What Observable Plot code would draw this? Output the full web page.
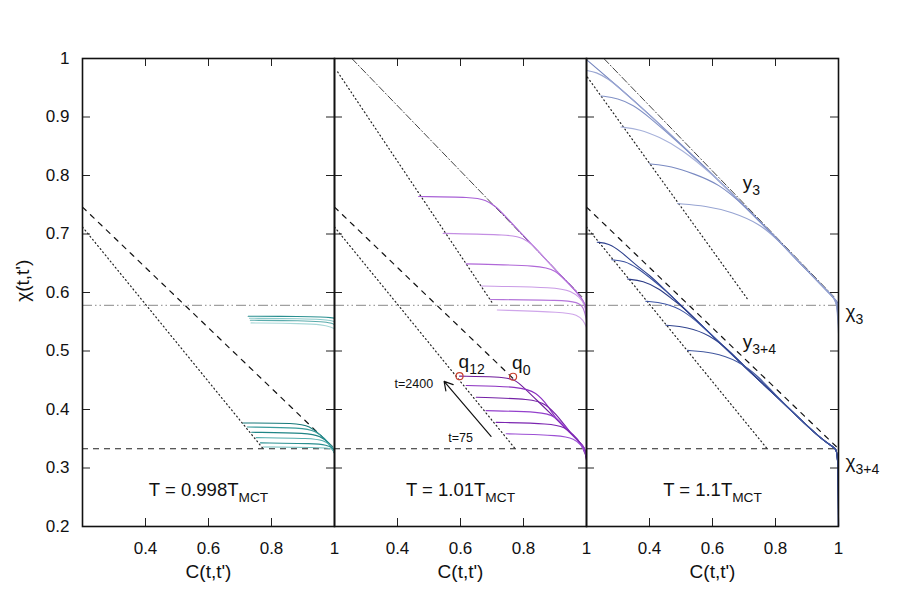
<!DOCTYPE html>
<html><head><meta charset="utf-8">
<script src="https://cdn.jsdelivr.net/npm/d3@7"></script>
<script src="https://cdn.jsdelivr.net/npm/@observablehq/plot@0.6"></script>
<style>
body{margin:0;background:#fff;}
#chart{width:900px;height:600px;}
</style></head><body><div id="chart"></div>
<script>
// ---------- data ----------
const panels = ["p1", "p2", "p3"];
const panelLabels = ["T = 0.998T_{MCT}", "T = 1.01T_{MCT}", "T = 1.1T_{MCT}"];
const xTicks = [0.4, 0.6, 0.8, 1];
const yTicks = [0.2, 0.3, 0.4, 0.5, 0.6, 0.7, 0.8, 0.9, 1];
const chi3 = 0.578;
const chi34 = 0.333;

// straight guide lines [C, chi]
const dashedLine = [[0.2, 0.746], [1, 0.333]];             // panels 1 and 3
const dashedLineP2 = [[0.2, 0.746], [0.767, 0.453]];        // panel 2, ends at q0
const dottedLow = [[0.2, 0.712], [0.772, 0.334]];           // all panels
const dottedHighP2 = [[0.21, 0.977], [0.70, 0.583]];
const dottedHighP3 = [[0.203, 0.968], [0.711, 0.589]];
const dashDotLine = [[0.255, 1.0], [0.985, 0.593]];         // panels 2 and 3

// panel 1 (T = 0.998 T_MCT), teal
const tealUpper = [
  [[0.726, 0.5595], [0.90, 0.559], [0.96, 0.558], [0.99, 0.557], [1, 0.556]],
  [[0.730, 0.556], [0.90, 0.555], [0.96, 0.554], [0.99, 0.552], [1, 0.550]],
  [[0.733, 0.5525], [0.90, 0.552], [0.96, 0.550], [0.99, 0.548], [1, 0.545]],
  [[0.735, 0.548], [0.90, 0.547], [0.96, 0.545], [0.99, 0.541], [1, 0.538]]
];
const tealUpperColors = ["#2a8f90", "#8ccaca", "#5aacac", "#a8d8d8"];
const tealLower = [
  [[0.710, 0.377], [0.88, 0.377], [0.92, 0.372], [0.96, 0.355], [0.99, 0.337], [1, 0.325]],
  [[0.723, 0.370], [0.90, 0.369], [0.94, 0.363], [0.97, 0.350], [0.99, 0.337], [1, 0.326]],
  [[0.737, 0.361], [0.92, 0.360], [0.955, 0.354], [0.98, 0.344], [0.995, 0.335], [1, 0.327]],
  [[0.751, 0.352], [0.93, 0.351], [0.965, 0.347], [0.985, 0.340], [0.997, 0.334], [1, 0.328]],
  [[0.765, 0.343], [0.94, 0.342], [0.975, 0.339], [0.99, 0.336], [1, 0.329]],
  [[0.774, 0.336], [0.95, 0.335], [0.98, 0.334], [0.995, 0.332], [1, 0.326]]
];
const tealLowerColors = ["#16797a", "#3a9c9c", "#1f8586", "#54aeae", "#2a8f90", "#70bcbc"];

// panel 2 (T = 1.01 T_MCT), purple
const purpleUpperEnv = [[0.74, 0.732], [0.80, 0.697], [0.86, 0.663], [0.92, 0.628], [0.96, 0.606], [0.985, 0.590], [0.995, 0.580]];
const purpleUpper = [
  [[0.467, 0.764], [0.64, 0.763], [0.68, 0.758], [0.71, 0.748]],
  [[0.545, 0.701], [0.76, 0.699], [0.80, 0.693], [0.83, 0.681]],
  [[0.618, 0.649], [0.86, 0.646], [0.90, 0.638], [0.935, 0.620]],
  [[0.666, 0.611], [0.91, 0.609], [0.95, 0.602], [0.978, 0.592]],
  [[0.695, 0.588], [0.93, 0.587], [0.97, 0.583], [0.99, 0.577]],
  [[0.717, 0.570], [0.93, 0.5665], [0.97, 0.562], [0.99, 0.553], [1, 0.540]]
];
const purpleUpperEnds = [0.573, 0.569, 0.564, 0.559, 0.552, 0.540];
const purpleUpperColors = ["#a860d6", "#c48ee3", "#b068d8", "#c99ae6", "#b474da", "#cfa6ea"];
const purpleLowerEnv = [[0.80, 0.4385], [0.85, 0.412], [0.90, 0.3855], [0.95, 0.359], [0.98, 0.343], [0.995, 0.335]];
const purpleLower = [
  [[0.597, 0.457], [0.72, 0.456], [0.767, 0.452], [0.785, 0.446]],
  [[0.618, 0.441], [0.79, 0.439], [0.84, 0.430], [0.88, 0.405]],
  [[0.650, 0.421], [0.83, 0.418], [0.87, 0.410], [0.915, 0.385]],
  [[0.681, 0.398], [0.86, 0.396], [0.90, 0.389], [0.94, 0.366]],
  [[0.713, 0.378], [0.89, 0.376], [0.93, 0.370], [0.96, 0.356], [0.98, 0.345]],
  [[0.745, 0.3585], [0.92, 0.356], [0.96, 0.350], [0.985, 0.340]]
];
const purpleLowerEnds = [0.313, 0.314, 0.315, 0.316, 0.318, 0.320];
const purpleLowerColors = ["#6e1a9a", "#8a2fc0", "#7421a6", "#9440cc", "#7b25b0", "#9c4fd4"];
const qPoints = [{name: "q_{12}", C: 0.597, chi: 0.457}, {name: "q_{0}", C: 0.767, chi: 0.456}];

// panel 3 (T = 1.1 T_MCT), blue
const blueUpperEnv = [[0.2, 0.998], [0.3, 0.952], [0.4, 0.904], [0.5, 0.853], [0.6, 0.802], [0.7, 0.749], [0.8, 0.694], [0.9, 0.638], [0.95, 0.610], [0.98, 0.594], [0.995, 0.585]];
const blueUpper = [
  [[0.2, 0.998]],
  [[0.2, 0.9795], [0.23, 0.977], [0.27, 0.965], [0.31, 0.947]],
  [[0.246, 0.936], [0.30, 0.932], [0.35, 0.920], [0.39, 0.904]],
  [[0.309, 0.883], [0.37, 0.879], [0.43, 0.866], [0.50, 0.846]],
  [[0.399, 0.820], [0.47, 0.816], [0.54, 0.803], [0.62, 0.786]],
  [[0.489, 0.752], [0.58, 0.748], [0.66, 0.738], [0.75, 0.717]]
];
const blueUpperEnds = [0.580, 0.570, 0.563, 0.555, 0.545, 0.530];
const blueUpperColors = ["#7283bd", "#9aa6d2", "#8191c6", "#a6b1da", "#7a8ac2", "#97a4d2"];
const blueLowerEnv = [[0.40, 0.630], [0.45, 0.604], [0.5, 0.578], [0.55, 0.552], [0.6, 0.526], [0.7, 0.474], [0.8, 0.424], [0.9, 0.372], [0.95, 0.348], [0.98, 0.337], [0.993, 0.333], [0.999, 0.315]];
const blueLower = [
  [[0.234, 0.686], [0.27, 0.684], [0.31, 0.670], [0.36, 0.645]],
  [[0.280, 0.656], [0.32, 0.654], [0.36, 0.643], [0.42, 0.617]],
  [[0.330, 0.623], [0.38, 0.620], [0.43, 0.607], [0.48, 0.585]],
  [[0.388, 0.585], [0.45, 0.582], [0.51, 0.569], [0.57, 0.541]],
  [[0.452, 0.544], [0.52, 0.541], [0.59, 0.528], [0.66, 0.498]],
  [[0.521, 0.501], [0.60, 0.498], [0.68, 0.484], [0.75, 0.455]]
];
const blueLowerEnd = 0.2;
const blueLowerColors = ["#2c3f8c", "#3a509e", "#2a3a85", "#3d55a5", "#30448f", "#42589f"];

// annotations
const arrowT = {C1: 0.697, chi1: 0.354, C2: 0.548, chi2: 0.448};

// ---------- build rows ----------
const curveRows = [];
let cid = 0;
function addCurve(panel, pts, color) {
  const id = cid++;
  pts.forEach(([C, chi]) => curveRows.push({panel, id, C, chi, color}));
}
function withEnv(head, env, endChi) {
  const last = head[head.length - 1][0];
  const pts = head.concat(env.filter(p => p[0] > last + 0.015));
  if (endChi != null) pts.push([1, endChi]);
  return pts;
}
tealUpper.forEach((c, i) => addCurve("p1", c, tealUpperColors[i]));
tealLower.forEach((c, i) => addCurve("p1", c, tealLowerColors[i]));
purpleUpper.forEach((c, i) => addCurve("p2", i === 5 ? c : withEnv(c, purpleUpperEnv, purpleUpperEnds[i]), purpleUpperColors[i]));
purpleLower.forEach((c, i) => addCurve("p2", withEnv(c, purpleLowerEnv, purpleLowerEnds[i]), purpleLowerColors[i]));
blueUpper.forEach((c, i) => addCurve("p3", withEnv(c, blueUpperEnv, blueUpperEnds[i]), blueUpperColors[i]));
blueLower.forEach((c, i) => addCurve("p3", withEnv(c, blueLowerEnv, blueLowerEnd), blueLowerColors[i]));

const guideRows = [];
function addGuide(panel, kind, pts) {
  const id = panel + kind;
  pts.forEach(([C, chi]) => guideRows.push({panel, kind, id, C, chi}));
}
panels.forEach(p => addGuide(p, "dotted", dottedLow));
addGuide("p1", "dashed", dashedLine);
addGuide("p2", "dashed", dashedLineP2);
addGuide("p3", "dashed", dashedLine);
addGuide("p2", "dotted2", dottedHighP2);
addGuide("p3", "dotted2", dottedHighP3);
addGuide("p2", "dashdot", dashDotLine);
addGuide("p3", "dashdot", dashDotLine);
const G = k => guideRows.filter(d => d.kind === k || (k === "dotted" && d.kind === "dotted2"));

const labelRows = panels.map((p, i) => ({panel: p, text: panelLabels[i]}));
const FONT = "'Liberation Sans', Arial, Helvetica, sans-serif";
const FW = 252, FH = 468, TK = 8;

const chart = Plot.plot({
  width: 900, height: 600,
  marginLeft: 82, marginRight: 62, marginTop: 58, marginBottom: 74,
  style: {fontFamily: FONT, fontSize: "17px", background: "white", color: "#111", overflow: "visible"},
  x: {domain: [0.2, 1]},
  y: {domain: [0.2, 1]},
  fx: {domain: panels, padding: 0, axis: null, label: null},
  color: {type: "identity"},
  marks: [
    Plot.ruleY([chi3], {stroke: "#a0a0a0", strokeWidth: 1.3, strokeDasharray: "10,3,1.5,3,1.5,3"}),
    Plot.ruleY([chi34], {stroke: "#222", strokeWidth: 1.1, strokeDasharray: "6,5"}),
    Plot.line(G("dotted"), {x: "C", y: "chi", z: "id", fx: "panel", stroke: "#222", strokeWidth: 1.2, strokeDasharray: "1,3"}),
    Plot.line(G("dashed"), {x: "C", y: "chi", z: "id", fx: "panel", stroke: "#111", strokeWidth: 1.2, strokeDasharray: "5,6"}),
    Plot.line(G("dashdot"), {x: "C", y: "chi", z: "id", fx: "panel", stroke: "#444", strokeWidth: 1, strokeDasharray: "7,2.5,1,2.5"}),
    Plot.line(curveRows, {x: "C", y: "chi", z: "id", fx: "panel", stroke: "color", strokeWidth: 1.1, curve: "basis"}),
    Plot.dot(qPoints, {x: "C", y: "chi", fx: () => "p2", r: 3.5, stroke: "#c8402e", strokeWidth: 1.2, fill: "none"}),
    Plot.text(qPoints, {x: "C", y: "chi", fx: () => "p2", text: "name", dy: -14, dx: -1, textAnchor: "start", fontSize: 19}),
    Plot.arrow([arrowT], {x1: "C1", y1: "chi1", x2: "C2", y2: "chi2", fx: () => "p2", stroke: "#111", strokeWidth: 1.2, headLength: 12}),
    Plot.text([{panel: "p2"}], {fx: "panel", x: () => 0.513, y: () => 0.4444, text: () => "t=2400", textAnchor: "end", fontSize: 12.5}),
    Plot.text([{panel: "p2"}], {fx: "panel", x: () => 0.561, y: () => 0.352, text: () => "t=75", textAnchor: "start", fontSize: 12.5}),
    Plot.text([{panel: "p3"}], {fx: "panel", x: () => 0.696, y: () => 0.788, text: () => "y_{3}", textAnchor: "start", fontSize: 19}),
    Plot.text([{panel: "p3"}], {fx: "panel", x: () => 0.696, y: () => 0.516, text: () => "y_{3+4}", textAnchor: "start", fontSize: 19}),
    Plot.text([{panel: "p3"}], {fx: "panel", x: () => 1, y: () => chi3, text: () => "χ_{3}", textAnchor: "start", dx: 7, dy: 7, fontSize: 19}),
    Plot.text([{panel: "p3"}], {fx: "panel", x: () => 1, y: () => chi34, text: () => "χ_{3+4}", textAnchor: "start", dx: 7, dy: 13, fontSize: 19}),
    Plot.text(labelRows, {fx: "panel", frameAnchor: "bottom", dy: -31, text: "text", fontSize: 18.5}),
    Plot.text(labelRows, {fx: "panel", frameAnchor: "bottom", dy: 51, text: () => "C(t,t')", fontSize: 19}),
    Plot.text([{panel: "p1"}], {fx: "panel", x: () => 0.2, y: () => 0.62, dx: -60, rotate: -90, text: () => "χ(t,t')", fontSize: 19}),
    Plot.tickY(yTicks, {y: d => d, insetRight: FW - TK, stroke: "#222", strokeWidth: 1}),
    Plot.tickY(yTicks, {y: d => d, insetLeft: FW - TK, stroke: "#222", strokeWidth: 1}),
    Plot.tickX(xTicks, {x: d => d, insetBottom: FH - TK, stroke: "#222", strokeWidth: 1}),
    Plot.tickX(xTicks, {x: d => d, insetTop: FH - TK, stroke: "#222", strokeWidth: 1}),
    Plot.axisX({ticks: xTicks, tickSize: 0, tickPadding: 15, tickFormat: d3.format("~g"), label: null, fontSize: 17}),
    Plot.axisY({ticks: yTicks, tickSize: 0, tickPadding: 13, tickFormat: d3.format("~g"), label: null, fontSize: 17}),
    Plot.frame({stroke: "#111", strokeWidth: 1.6})
  ]
});

// subscripts: turn "_{...}" into real tspans
function applySubs(svg) {
  svg.querySelectorAll("text").forEach(t => {
    const s = t.textContent;
    if (!s.includes("_{")) return;
    while (t.firstChild) t.removeChild(t.firstChild);
    const ns = "http://www.w3.org/2000/svg";
    const re = /_\{([^}]*)\}/g;
    let last = 0, m, shifted = false;
    while ((m = re.exec(s))) {
      if (m.index > last) {
        const ts = document.createElementNS(ns, "tspan");
        ts.textContent = s.slice(last, m.index);
        if (shifted) { ts.setAttribute("dy", "-6"); shifted = false; }
        t.appendChild(ts);
      }
      const sub = document.createElementNS(ns, "tspan");
      sub.textContent = m[1];
      sub.setAttribute("font-size", "74%");
      sub.setAttribute("dy", "6");
      shifted = true;
      t.appendChild(sub);
      last = re.lastIndex;
    }
    if (last < s.length) {
      const ts = document.createElementNS(ns, "tspan");
      ts.textContent = s.slice(last);
      if (shifted) ts.setAttribute("dy", "-6");
      t.appendChild(ts);
    }
  });
}
applySubs(chart);
document.getElementById("chart").appendChild(chart);
</script>
</body></html>
